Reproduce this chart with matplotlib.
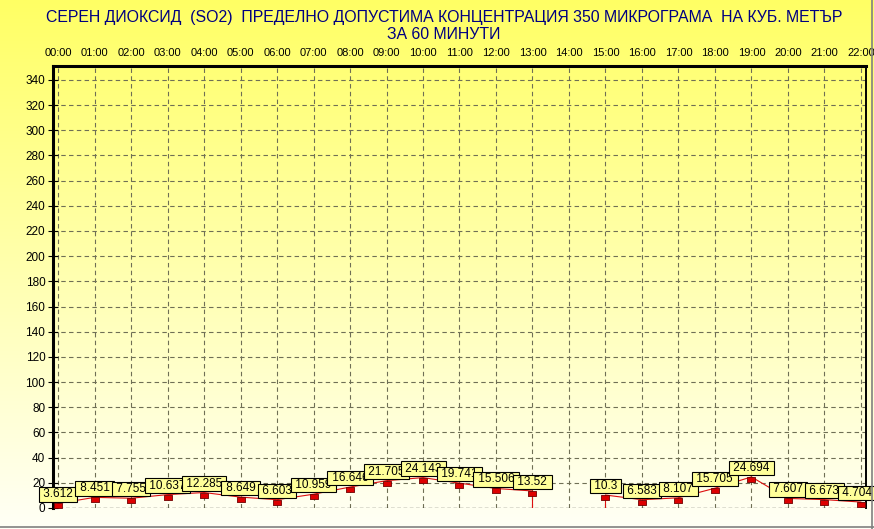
import numpy as np
import matplotlib
matplotlib.use('Agg')
import matplotlib.pyplot as plt
from matplotlib.lines import Line2D

plt.rcParams['font.family'] = ['Liberation Sans', 'DejaVu Sans']

# hourly SO2 values (14:00 has no measurement)
hours = [0, 1, 2, 3, 4, 5, 6, 7, 8, 9, 10, 11, 12, 13,
         15, 16, 17, 18, 19, 20, 21, 22]
values = [3.612, 8.451, 7.755, 10.637, 12.285, 8.649, 6.603, 10.959,
          16.646, 21.705, 24.143, 19.741, 15.506, 13.52,
          10.3, 6.583, 8.107, 15.705, 24.694, 7.607, 6.673, 4.704]
gap_hour = 14
tick_hours = list(range(0, 23))
tick_labels = ['{:02d}:00'.format(h) for h in tick_hours]
yticks = list(range(0, 341, 20))

title = ('СЕРЕН ДИОКСИД  (SO2)  ПРЕДЕЛНО ДОПУСТИМА КОНЦЕНТРАЦИЯ 350 МИКРОГРАМА  НА КУБ. МЕТЪР\n'
         'ЗА 60 МИНУТИ')

fig = plt.figure(figsize=(8.74, 5.29), dpi=100)

# vertical yellow gradient behind everything
bg = fig.add_axes([0, 0, 1, 1], zorder=-10)
grad = np.linspace(0, 1, 256).reshape(-1, 1)
top_c = np.array([255, 255, 100]) / 255.0
bot_c = np.array([255, 255, 246]) / 255.0
img = top_c[None, None, :] * (1 - grad[:, :, None]) + bot_c[None, None, :] * grad[:, :, None]
bg.imshow(img, aspect='auto', extent=[0, 1, 0, 1])
bg.axis('off')

ax = fig.add_axes([53 / 874, 21 / 529, 813 / 874, 442 / 529])
ax.patch.set_alpha(0)
ax.set_xlim(-0.14, 22.14)
ax.set_ylim(0, 351)

# grid
grid_kw = dict(color='#6f6f55', lw=0.8, ls=(0, (4, 3)), zorder=1)
for h in tick_hours:
    ax.axvline(h, **grid_kw)
for y in yticks[1:]:
    ax.axhline(y, **grid_kw)
ax.axhline(0, color='black', lw=0.9, ls=(0, (3, 2)), zorder=2)

# split series around the missing hour, with drop lines to zero
left = [(h, v) for h, v in zip(hours, values) if h < gap_hour]
right = [(h, v) for h, v in zip(hours, values) if h > gap_hour]
for seg in (left, right):
    xs = [p[0] for p in seg]
    ys = [p[1] for p in seg]
    ax.plot(xs, ys, color='#dd1010', lw=0.8, zorder=3)
ax.plot([left[-1][0], left[-1][0]], [left[-1][1], 0], color='#dd1010', lw=0.8, zorder=3)
ax.plot([right[0][0], right[0][0]], [right[0][1], 0], color='#dd1010', lw=0.8, zorder=3)

# small red block hanging just under each value
rect = [(-1, -1.2), (1, -1.2), (1, 0), (-1, 0), (-1, -1.2)]
ax.plot(hours, values, ls='none', marker=rect, markersize=7,
        markerfacecolor='#dd0000', markeredgecolor='#700000', markeredgewidth=0.6, zorder=4)

for i, (h, v) in enumerate(zip(hours, values)):
    dx = -4 if i == len(hours) - 1 else 0
    ax.annotate(' {:g} '.format(v), (h, v), xytext=(dx, 3), textcoords='offset pixels',
                ha='center', va='bottom', fontsize=8.5, color='black', zorder=5 + i,
                annotation_clip=False,
                bbox=dict(boxstyle='square,pad=0.1', fc='#ffff99', ec='black', lw=0.8))

# axes frame
ax.spines['top'].set_linewidth(2.2)
ax.spines['left'].set_linewidth(2.2)
ax.spines['right'].set_linewidth(1.4)
ax.spines['bottom'].set_visible(False)

ax.xaxis.tick_top()
ax.set_xticks(tick_hours)
ax.set_xticklabels(tick_labels)
ax.tick_params(axis='x', length=0, pad=6, labelsize=8)
ax.set_yticks(yticks)
ax.tick_params(axis='y', direction='inout', length=7, width=0.8, pad=2, labelsize=8.5)

fig.text(0.508, 0.982, title, ha='center', va='top', fontsize=11.4,
         color='#000080', linespacing=1.2)

# panel border at the right and bottom
fig.add_artist(Line2D([0, 1], [0.003, 0.003], transform=fig.transFigure, color='#808080', lw=1.2))
fig.add_artist(Line2D([0.998, 0.998], [0, 1], transform=fig.transFigure, color='#808080', lw=1.2))

fig.savefig('out.png', dpi=100)
